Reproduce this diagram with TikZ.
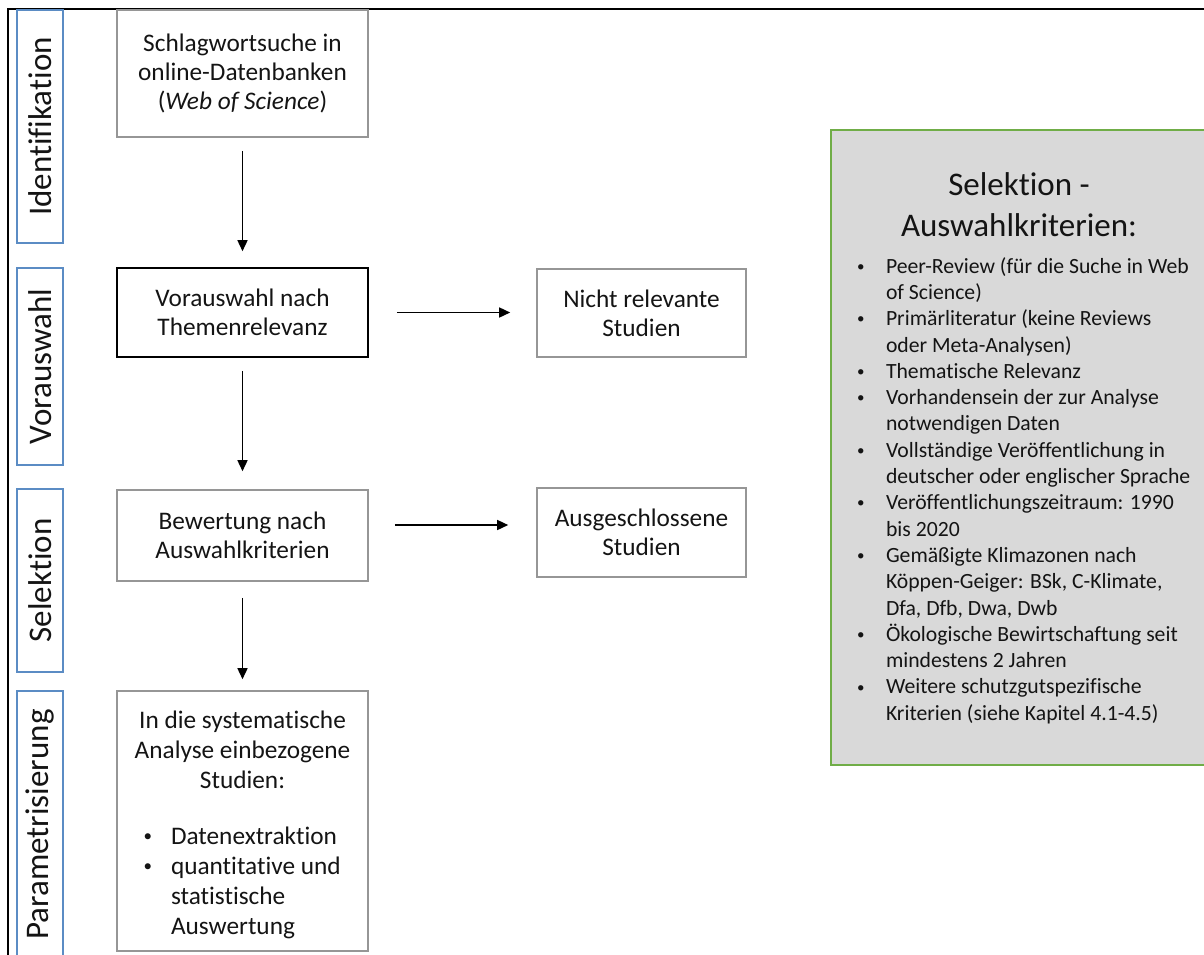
\documentclass[tikz,border=0pt]{standalone}
\usepackage{fontspec}
\setmainfont[Ligatures=NoCommon]{Carlito}
\usetikzlibrary{arrows.meta}
\definecolor{lblblue}{RGB}{91,140,196}
\definecolor{boxgray}{RGB}{150,150,150}
\definecolor{critgreen}{RGB}{112,173,71}
\definecolor{critfill}{RGB}{217,217,217}
\definecolor{txt}{RGB}{20,20,20}
\newcommand{\smallbul}{\raisebox{1.9pt}{\fontsize{15}{15}\selectfont\textbullet}}
\newcommand{\boxbul}{\raisebox{2.3pt}{\fontsize{17}{17}\selectfont\textbullet}}
\tikzset{
  lbl/.style={draw=lblblue, line width=1.5pt, rotate=90, minimum height=46pt, inner sep=0pt, font=\fontsize{33}{40}\selectfont, text=txt},
  flowbox/.style={draw=boxgray, line width=1.6pt, minimum width=251pt, inner sep=0pt, font=\fontsize{25.3}{29}\selectfont, text=txt},
  arr/.style={line width=1.5pt, -{Triangle[width=10pt,length=11pt]}},
}
\begin{document}
\begin{tikzpicture}[x=1pt,y=-1pt]
\clip (0,0) rectangle (1204,954);
\draw[line width=2.5pt] (8,960) -- (8,9) -- (1210,9);
% phase labels
\node[lbl, minimum width=233pt] (l1) at (40,126.5) {Identifikation};
\node[lbl, minimum width=197pt] (l2) at (40,366.5) {Vorauswahl};
\node[lbl, minimum width=183pt] (l3) at (40,580.5) {Selektion};
\node[lbl, minimum width=267pt] (l4) at (40,824.5) {Parametrisierung};
% flow boxes
\node[flowbox, align=center, minimum height=127pt] (b1) at (242.5,73.5) {Schlagwortsuche in\\online-Datenbanken\\(\textit{Web of Science})};
\node[flowbox, align=center, draw=black, minimum height=89pt] (b2) at (242.5,312.5) {Vorauswahl nach\\Themenrelevanz};
\node[flowbox, align=center, minimum height=91pt] (b3) at (242.5,535.5) {Bewertung nach\\Auswahlkriterien};
\node[flowbox, minimum height=260pt, font=\fontsize{25.3}{30}\selectfont] (b4) at (242.5,821) {%
\begin{minipage}{224pt}\vspace*{12pt}\centering
In die systematische\\Analyse einbezogene\\Studien:\par\vspace{26pt}
\raggedright
\begin{tabular}[t]{@{\hspace{13pt}}p{27.5pt}@{}l@{}}
\boxbul & Datenextraktion\\
\boxbul & quantitative und\\
 & statistische\\
 & Auswertung
\end{tabular}
\end{minipage}};
% excluded boxes
\node[flowbox, align=center, minimum width=209pt, minimum height=88pt] (r1) at (641.5,313) {Nicht relevante\\Studien};
\node[flowbox, align=center, minimum width=209pt, minimum height=89pt] (r2) at (641.5,532.5) {Ausgeschlossene\\Studien};
% arrows
\draw[arr] ([yshift=-13pt]b1.south) -- ([yshift=16pt]b2.north);
\draw[arr] ([yshift=-13pt]b2.south) -- ([yshift=18pt]b3.north);
\draw[arr] ([yshift=-16pt]b3.south) -- ([yshift=11pt]b4.north);
\draw[arr] ([xshift=28pt]b2.east) -- ([xshift=-26pt,yshift=0.5pt]r1.west);
\draw[arr] ([xshift=26pt,yshift=10.5pt]b3.east) -- ([xshift=-28pt,yshift=7.5pt]r2.west);
% criteria box
\node[draw=critgreen, line width=2pt, fill=critfill, minimum width=376pt, minimum height=635pt, inner sep=0pt, text=txt] (crit) at (1019,447.5) {%
\begin{minipage}{324pt}\vspace*{6pt}
\centering\fontsize{33}{41}\selectfont Selektion -\\Auswahlkriterien:\par
\vspace{10pt}
\raggedright\fontsize{21.7}{26.3}\selectfont
\begin{tabular}[t]{@{}p{29pt}@{}l@{}}
\smallbul & Peer-Review (für die Suche in Web\\
 & of Science)\\
\smallbul & Primärliteratur (keine Reviews\\
 & oder Meta-Analysen)\\
\smallbul & Thematische Relevanz\\
\smallbul & Vorhandensein der zur Analyse\\
 & notwendigen Daten\\
\smallbul & Vollständige Veröffentlichung in\\
 & deutscher oder englischer Sprache\\
\smallbul & Veröffentlichungszeitraum: 1990\\
 & bis 2020\\
\smallbul & Gemäßigte Klimazonen nach\\
 & Köppen-Geiger: BSk, C-Klimate,\\
 & Dfa, Dfb, Dwa, Dwb\\
\smallbul & Ökologische Bewirtschaftung seit\\
 & mindestens 2 Jahren\\
\smallbul & Weitere schutzgutspezifische\\
 & Kriterien (siehe Kapitel 4.1-4.5)
\end{tabular}
\end{minipage}};
\end{tikzpicture}
\end{document}
